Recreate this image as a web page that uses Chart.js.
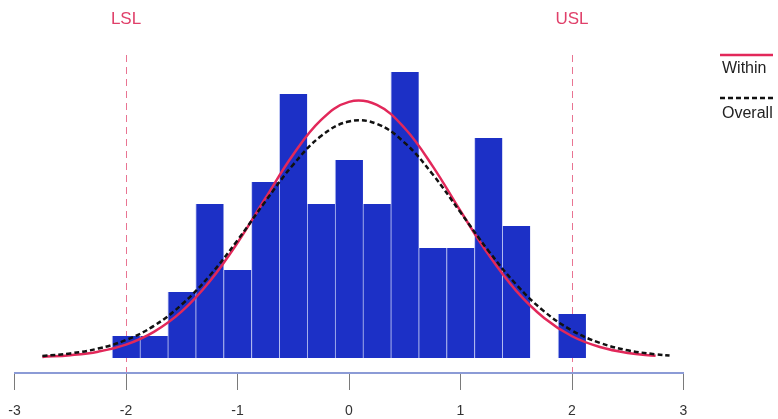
<!DOCTYPE html>
<html>
<head>
<meta charset="utf-8">
<title>Process capability histogram</title>
<script src="https://cdn.jsdelivr.net/npm/chart.js@4.4.1/dist/chart.umd.min.js"></script>
<style>
  html, body { margin: 0; padding: 0; background: #fff; }
  #wrap { width: 778px; height: 419px; }
</style>
</head>
<body>
<div id="wrap"><canvas id="capChart" width="778" height="419"></canvas></div>
<script>
// histogram bins (centre of each 0.25 wide bin) and counts
const binCenters = [-2, -1.75, -1.5, -1.25, -1, -0.75, -0.5, -0.25, 0, 0.25, 0.5, 0.75, 1, 1.25, 1.5, 1.75, 2];
const binCounts  = [1, 1, 3, 7, 4, 8, 12, 7, 9, 7, 13, 5, 5, 10, 6, 0, 2];

// fitted curves (count scale)
const curveX      = [-2.75, -2.5, -2.25, -2, -1.75, -1.5, -1.25, -1, -0.75, -0.5, -0.25, 0, 0.25, 0.5, 0.75, 1, 1.25, 1.5, 1.75, 2, 2.25, 2.5, 2.75, 2.875];
const withinFit   = [0.05, 0.13, 0.29, 0.61, 1.19, 2.12, 3.48, 5.24, 7.26, 9.25, 10.82, 11.64, 11.5, 10.44, 8.72, 6.68, 4.71, 3.05, 1.82, 0.99, 0.5, 0.23, 0.1, null];
const overallFit  = [0.09, 0.21, 0.43, 0.82, 1.46, 2.43, 3.74, 5.35, 7.12, 8.79, 10.09, 10.75, 10.64, 9.78, 8.35, 6.62, 4.88, 3.34, 2.12, 1.25, 0.69, 0.35, 0.17, 0.11];

// axis ticks and spec limits
const xTicks      = [-3, -2, -1, 0, 1, 2, 3];
const specLimits  = [-2, 2];
const specLabels  = ['LSL', 'USL'];

const FONT = '"Liberation Sans", Arial, sans-serif';

function toPoints(xs, ys) {
    return xs.map((x, i) => ({ x: x, y: ys[i] })).filter(p => p.y !== null);
}

// keep the plot edges fixed, labels may hang over them
function fixAxis(height) {
    return s => {
        s.height = height;
        s.paddingLeft = 0;
        s.paddingRight = 0;
    };
}

// legend drawn to the right of the plot: line above label
const sideLegend = {
    id: 'sideLegend',
    afterDraw(chart) {
        const ctx = chart.ctx;
        const sets = chart.data.datasets;
        const items = [
            { ds: sets[1], y: 55, ty: 69 },
            { ds: sets[2], y: 98, ty: 114 }
        ];
        ctx.save();
        items.forEach(it => {
            ctx.beginPath();
            ctx.setLineDash(it.ds.borderDash || []);
            ctx.strokeStyle = it.ds.borderColor;
            ctx.lineWidth = it.ds.borderWidth;
            ctx.moveTo(720, it.y);
            ctx.lineTo(773, it.y);
            ctx.stroke();
            ctx.setLineDash([]);
            ctx.fillStyle = '#222';
            ctx.font = '16px ' + FONT;
            ctx.textAlign = 'left';
            ctx.textBaseline = 'middle';
            ctx.fillText(it.ds.label, 722, it.ty);
        });
        ctx.restore();
    }
};

const ctx = document.getElementById('capChart');

new Chart(ctx, {
    type: 'bar',
    data: {
        datasets: [
            {
                type: 'bar',
                label: 'Data',
                data: toPoints(binCenters, binCounts),
                backgroundColor: '#1c30c6',
                borderColor: 'rgba(170,180,240,0.7)',
                borderWidth: { left: 1, right: 0, top: 0, bottom: 0 },
                borderSkipped: false,
                barPercentage: 1,
                categoryPercentage: 1,
                order: 3
            },
            {
                type: 'line',
                label: 'Within',
                data: toPoints(curveX, withinFit),
                borderColor: '#e2285a',
                borderWidth: 2.5,
                pointRadius: 0,
                tension: 0.4,
                fill: false,
                order: 2
            },
            {
                type: 'line',
                label: 'Overall',
                data: toPoints(curveX, overallFit),
                borderColor: '#111',
                borderWidth: 2.5,
                borderDash: [5, 3],
                pointRadius: 0,
                tension: 0.4,
                fill: false,
                order: 1
            }
        ]
    },
    options: {
        responsive: false,
        animation: false,
        layout: {
            padding: { left: 14.5, right: 94.5, top: 0, bottom: 0 }
        },
        plugins: {
            legend: { display: false },
            tooltip: { enabled: false }
        },
        scales: {
            x: {
                type: 'linear',
                position: 'bottom',
                offset: false,
                min: xTicks[0],
                max: xTicks[xTicks.length - 1],
                afterBuildTicks: s => { s.ticks = xTicks.map(v => ({ value: v })); },
                afterFit: fixAxis(46),
                border: { display: true, color: '#8c9bd6', width: 2 },
                grid: {
                    offset: false,
                    drawOnChartArea: false,
                    drawTicks: true,
                    tickLength: 17,
                    color: '#7a7a7a',
                    lineWidth: 1
                },
                ticks: {
                    autoSkip: false,
                    maxRotation: 0,
                    padding: 13,
                    color: '#333',
                    font: { family: FONT, size: 14 }
                }
            },
            spec: {
                type: 'linear',
                position: 'top',
                offset: false,
                min: xTicks[0],
                max: xTicks[xTicks.length - 1],
                afterBuildTicks: s => { s.ticks = specLimits.map(v => ({ value: v })); },
                afterFit: fixAxis(55),
                border: { display: false, dash: [7, 5] },
                grid: {
                    offset: false,
                    drawOnChartArea: true,
                    drawTicks: false,
                    color: 'rgba(226,70,110,0.75)',
                    lineWidth: 1
                },
                ticks: {
                    autoSkip: false,
                    maxRotation: 0,
                    padding: 25,
                    color: '#e0406a',
                    font: { family: FONT, size: 17 },
                    callback: (v, i) => specLabels[i]
                }
            },
            y: {
                display: false,
                min: -0.68,
                max: 13.77
            }
        }
    },
    plugins: [sideLegend]
});
</script>
</body>
</html>
